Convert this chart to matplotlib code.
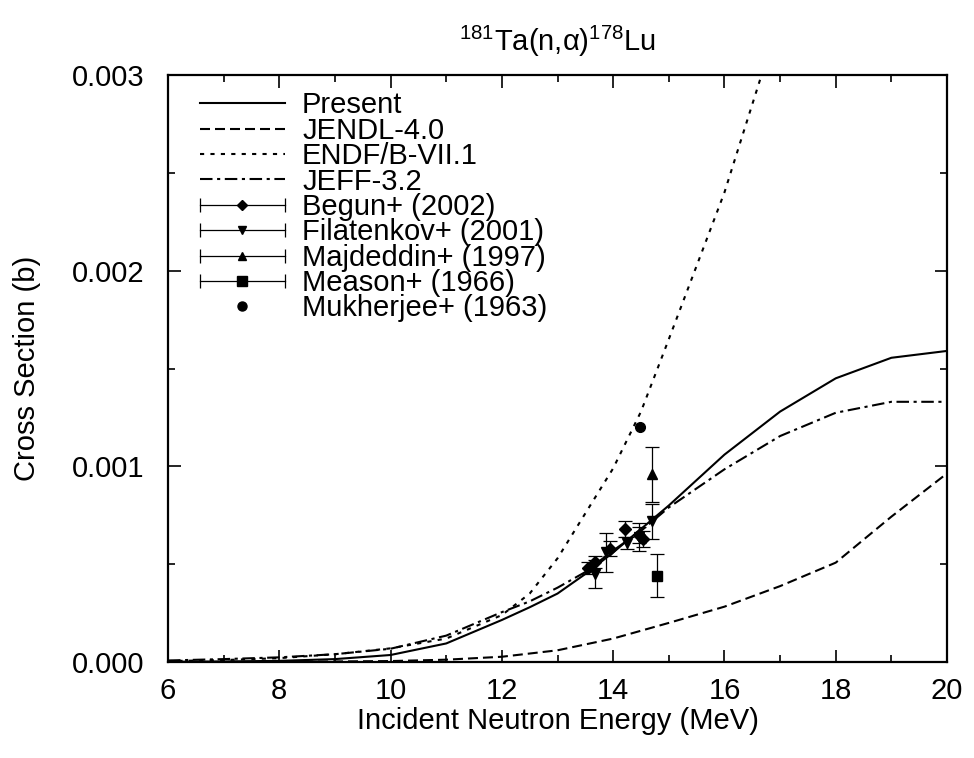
import numpy as np
import matplotlib
matplotlib.use('Agg')
import matplotlib.pyplot as plt
from matplotlib.lines import Line2D
from matplotlib.legend_handler import HandlerLine2D, HandlerTuple
from matplotlib.ticker import MultipleLocator, FormatStrFormatter

plt.rcParams['font.family'] = ['Liberation Sans', 'DejaVu Sans']
plt.rcParams['mathtext.fontset'] = 'custom'
plt.rcParams['mathtext.rm'] = 'Liberation Sans'
plt.rcParams['mathtext.it'] = 'Liberation Sans'
plt.rcParams['mathtext.default'] = 'regular'

# evaluated cross sections (MeV, barn)
present_e = [6, 7, 8, 9, 10, 11, 12, 12.5, 13, 13.5, 14, 14.5, 15, 16, 17, 18, 19, 20]
present_xs = [0.000001, 0.000003, 0.000006, 0.000015, 0.000036, 0.000095, 0.000215, 0.00028,
              0.00035, 0.00045, 0.00056, 0.00068, 0.00080, 0.00106, 0.00128, 0.00145, 0.001555, 0.00159]

jendl_e = [6, 8, 10, 11, 12, 13, 14, 15, 16, 17, 18, 19, 20]
jendl_xs = [0.0, 0.000001, 0.000005, 0.000012, 0.000027, 0.00006, 0.00012, 0.0002,
            0.000283, 0.000388, 0.000508, 0.000743, 0.000964]

endf_e = [6, 7, 8, 9, 10, 11, 12, 12.5, 13, 13.5, 14, 14.5, 15, 16, 17]
endf_xs = [0.000005, 0.00001, 0.00002, 0.00004, 0.00007, 0.00012, 0.00024, 0.00035,
           0.00053, 0.00076, 0.00099, 0.00128, 0.00165, 0.0024, 0.0033]

jeff_e = [6, 7, 8, 9, 10, 11, 12, 12.5, 13, 13.5, 14, 14.5, 15, 16, 17, 18, 19, 20]
jeff_xs = [0.000008, 0.000015, 0.000024, 0.00004, 0.000068, 0.000135, 0.000255, 0.00031,
           0.00038, 0.00046, 0.00057, 0.00067, 0.00079, 0.000985, 0.001155, 0.001274, 0.00133, 0.00133]

# experimental data
begun_e = [13.55, 13.68, 13.94, 14.21, 14.46, 14.54]
begun_xs = [0.00048, 0.00051, 0.00058, 0.00068, 0.00065, 0.00063]
begun_err = [0.00003, 0.00003, 0.00004, 0.00004, 0.00004, 0.00004]

filat_e = [13.67, 13.87, 14.25, 14.47, 14.70]
filat_xs = [0.00045, 0.00056, 0.00061, 0.00064, 0.00072]
filat_err = [0.00007, 0.0001, 0.00003, 0.00007, 0.00009]

majd_e = [14.70]
majd_xs = [0.00096]
majd_err = [0.00014]

meason_e = [14.78]
meason_xs = [0.00044]
meason_err = [0.00011]

mukh_e = [14.49]
mukh_xs = [0.0012]

fs = 21
fig = plt.figure(figsize=(9.74, 7.58), dpi=100)
ax = fig.add_axes([0.1725, 0.1266, 0.7998, 0.7744])

lw = 1.5
l1, = ax.plot(present_e, present_xs, color='black', lw=lw, label='Present')
l2, = ax.plot(jendl_e, jendl_xs, color='black', lw=lw, dashes=(4.8, 2.4), label='JENDL-4.0')
l3, = ax.plot(endf_e, endf_xs, color='black', lw=lw, dashes=(2.0, 3.0), label='ENDF/B-VII.1')
l4, = ax.plot(jeff_e, jeff_xs, color='black', lw=lw, dashes=(6.0, 2.2, 1.5, 2.2), label='JEFF-3.2')

eb = dict(color='black', capsize=5, elinewidth=0.9, capthick=0.9, linestyle='none')
ax.errorbar(begun_e, begun_xs, yerr=begun_err, marker='D', ms=6.5, **eb)
ax.errorbar(filat_e, filat_xs, yerr=filat_err, marker='v', ms=7, **eb)
ax.errorbar(majd_e, majd_xs, yerr=majd_err, marker='^', ms=7, **eb)
ax.errorbar(meason_e, meason_xs, yerr=meason_err, marker='s', ms=7.5, **eb)
ax.plot(mukh_e, mukh_xs, 'o', color='black', ms=7)

ax.set_xlim(6, 20)
ax.set_ylim(0, 0.003)
ax.xaxis.set_major_locator(MultipleLocator(2))
ax.xaxis.set_minor_locator(MultipleLocator(1))
ax.yaxis.set_major_locator(MultipleLocator(0.001))
ax.yaxis.set_minor_locator(MultipleLocator(0.0005))
ax.yaxis.set_major_formatter(FormatStrFormatter('%.3f'))
ax.tick_params(which='both', direction='in', top=True, right=True, width=1.2)
ax.tick_params(which='major', length=9)
ax.tick_params(which='minor', length=5)
ax.tick_params(axis='x', labelsize=fs, pad=11)
ax.tick_params(axis='y', labelsize=fs, pad=17)
for s in ax.spines.values():
    s.set_linewidth(1.6)

ax.set_xlabel('Incident Neutron Energy (MeV)', fontsize=fs, labelpad=1)
ax.set_ylabel('Cross Section (b)', fontsize=fs, labelpad=22)
ax.set_title(r'$^{181}$Ta(n,α)$^{178}$Lu', fontsize=fs, pad=17)

# legend handles in gnuplot style: line with end caps plus marker
handles = [l1, l2, l3, l4]
labels = ['Present', 'JENDL-4.0', 'ENDF/B-VII.1', 'JEFF-3.2']
hmap = {}
for mk, ms, lab in [('D', 5.5, 'Begun+ (2002)'), ('v', 6, 'Filatenkov+ (2001)'),
                    ('^', 6, 'Majdeddin+ (1997)'), ('s', 7.5, 'Meason+ (1966)')]:
    cap = Line2D([], [], color='black', lw=0.9, marker='|', ms=10, mew=0.9)
    dot = Line2D([], [], color='black', linestyle='none', marker=mk, ms=ms)
    hmap[cap] = HandlerLine2D(numpoints=2, marker_pad=0)
    handles.append((cap, dot))
    labels.append(lab)
handles.append(Line2D([], [], color='black', linestyle='none', marker='o', ms=6.5))
labels.append('Mukherjee+ (1963)')
hmap[tuple] = HandlerTuple(ndivide=1)

ax.legend(handles, labels, loc='upper left', bbox_to_anchor=(0.041, 0.972),
          frameon=False, fontsize=fs, handlelength=2.9, handletextpad=0.6,
          labelspacing=-0.09, borderpad=0, borderaxespad=0, handler_map=hmap)

plt.savefig('out.png', dpi=100)
